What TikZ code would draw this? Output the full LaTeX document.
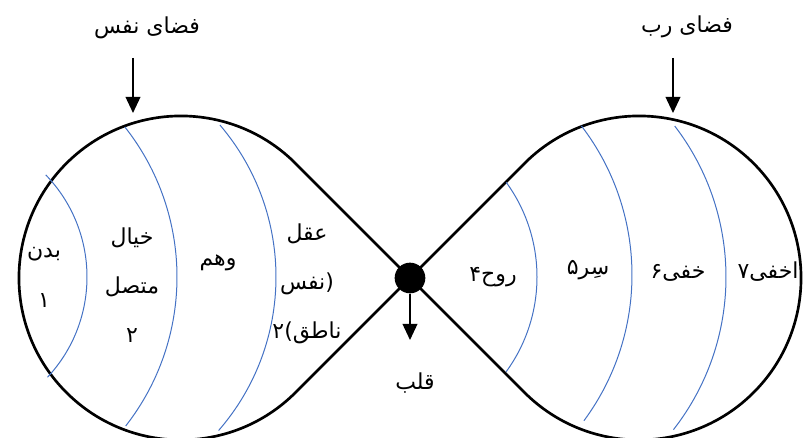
\documentclass[tikz,border=0pt]{standalone}
\usepackage{fontspec}
\newfontfamily\arabicfont[Script=Arabic]{DejaVu Sans}
\TeXXeTstate=1
\usetikzlibrary{arrows.meta}
\definecolor{layerBlue}{RGB}{68,114,196}

\begin{document}
\begin{tikzpicture}[x=0.75pt, y=0.75pt,
  every node/.style={font=\arabicfont\fontsize{16.5}{37}\selectfont, inner sep=1pt, align=center},
  layer/.style={layerBlue, line width=0.75pt},
  outline/.style={line width=2pt, line join=round},
  pointer/.style={line width=1.2pt, -{Triangle[length=12pt, width=11pt]}}]
  \useasboundingbox (0,0) rectangle (804,438);
  % Outline: two circles joined through the heart
  \coordinate (mid) at (410,160);
  \draw[outline] (295.5,274.5) -- (mid) -- (524.5,45.5)
    arc[start angle=225, end angle=495, radius=162] -- (mid) -- (295.5,45.5)
    arc[start angle=315, end angle=45, radius=162] -- cycle;
  % Layers of the left space
  \draw[layer] (-60,161) ++(-43:147) arc[start angle=-43, end angle=44, radius=147];
  \draw[layer] (-65,161) ++(-38:242) arc[start angle=-38, end angle=38.3, radius=242];
  \draw[layer] (42,161) ++(-41:234) arc[start angle=-41, end angle=40.5, radius=234];
  % Layers of the right space
  \draw[layer] (376,161) ++(-36:161) arc[start angle=-36, end angle=36, radius=161];
  \draw[layer] (387,163) ++(-36.5:245) arc[start angle=-36.5, end angle=37.5, radius=245];
  \draw[layer] (478,161) ++(-38:248) arc[start angle=-38, end angle=37.5, radius=248];
  % Heart
  \node[circle, fill, minimum size=23pt, inner sep=0pt] (heart) at (mid) {};
  \coordinate (heartTip) at (410,98);
  \draw[pointer] (heart.south) -- (heartTip);
  \node (qalb) at (415,55) {\beginR قلب\endR};
  % Titles
  \node (nafs) at (147,410) {\beginR فضای نفس\endR};
  \node (rabb) at (687,411) {\beginR فضای رب\endR};
  \coordinate (nafsTail) at (133,380);
  \coordinate (nafsTip) at (133,325);
  \coordinate (rabbTail) at (673,380);
  \coordinate (rabbTip) at (673,325);
  \draw[pointer] (nafsTail) -- (nafsTip);
  \draw[pointer] (rabbTail) -- (rabbTip);
  % Labels
  \node (badan) at (44,160.5) {\beginR بدن\endR\\ ۱};
  \node (khiyal) at (132,153) {\beginR خیال\endR\\ \beginR متصل\endR\\ ۲};
  \node (vahm) at (218,175) {\beginR وهم\endR};
  \node (aql) at (307,154) {\beginR عقل\endR\\ \beginR (نفس\endR\\ \beginR ناطق)۲\endR};
  \node (ruh) at (493,161) {\beginR روح۴\endR};
  \node (serr) at (588,168) {\beginR سِر۵\endR};
  \node (khafi) at (678,165) {\beginR خفی۶\endR};
  \node (akhfa) at (768,166) {\beginR اخفی۷\endR};
\end{tikzpicture}
\end{document}
